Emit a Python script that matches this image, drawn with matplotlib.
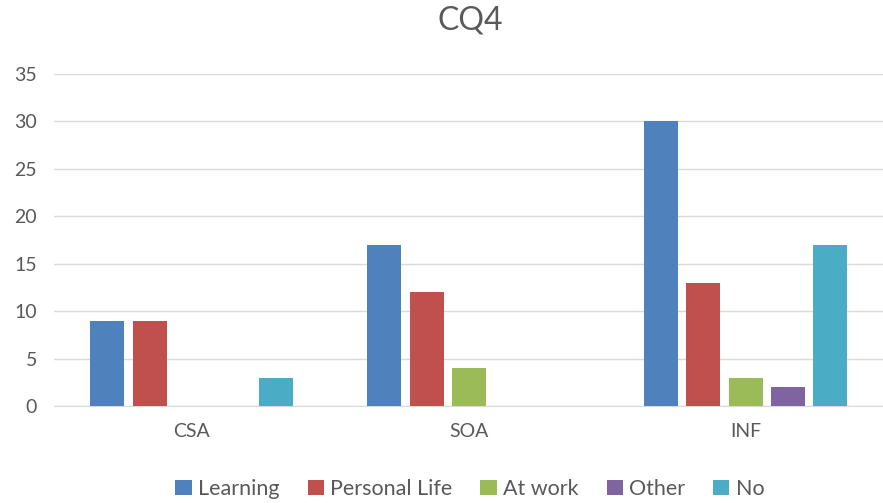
import matplotlib
matplotlib.use("Agg")
import matplotlib.pyplot as plt
import numpy as np

categories = ["CSA", "SOA", "INF"]
series_names = ["Learning", "Personal Life", "At work", "Other", "No"]
learning = [9, 17, 30]
personal_life = [9, 12, 13]
at_work = [0, 4, 3]
other = [0, 0, 2]
no = [3, 0, 17]
yticks = [0, 5, 10, 15, 20, 25, 30, 35]

series = [learning, personal_life, at_work, other, no]
colors = ["#4F81BD", "#C0504D", "#9BBB59", "#8064A2", "#4BACC6"]

plt.rcParams['font.family'] = ['Lato', 'DejaVu Sans']
txt = "#595959"

fig = plt.figure(figsize=(8.83, 5.03), dpi=100)
left, right = 53.5, 884
ax = fig.add_axes([left/883, 1-406/503, (right-left)/883, (406-74)/503])

x = np.arange(len(categories))
pitch = 42.25/277
width = 34/277
for i, (name, vals, c) in enumerate(zip(series_names, series, colors)):
    ax.bar(x + (i-2)*pitch, vals, width, color=c, label=name, zorder=3)

ax.set_xlim(-0.5, 2.5)
ax.set_ylim(0, 35)
ax.set_yticks(yticks)
ax.set_xticks(x)
ax.set_xticklabels(categories)
ax.grid(axis='y', color="#D9D9D9", linewidth=1, zorder=0)
for s in ["top", "right", "left"]:
    ax.spines[s].set_visible(False)
ax.spines["bottom"].set_color("#D9D9D9")
ax.tick_params(axis='both', length=0, labelsize=14, colors=txt)
ax.tick_params(axis='x', pad=12)
ax.tick_params(axis='y', pad=12)

fig.text(470/883, 1-20/503, "CQ4", ha='center', va='center', fontsize=23, color=txt)

fig.legend(loc='center', bbox_to_anchor=(470/883, 1-489/503), ncol=5, frameon=False,
           fontsize=15.5, labelcolor=txt, handlelength=0.75, handleheight=0.75,
           handletextpad=0.3, columnspacing=1.3)

fig.savefig("out.png", dpi=100)
